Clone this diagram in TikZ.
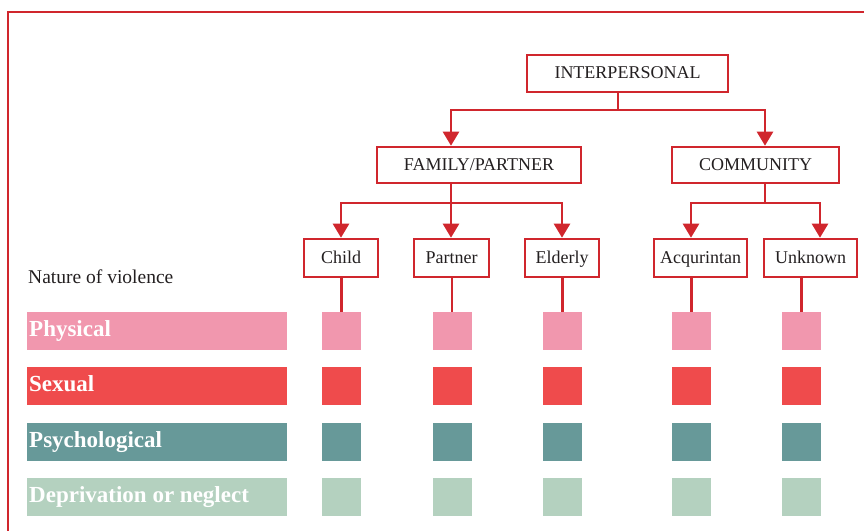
\documentclass[tikz,border=0pt]{standalone}
\usepackage{fontspec}
\setmainfont{Liberation Serif}
\usetikzlibrary{arrows.meta}
\definecolor{redline}{HTML}{D0262D}
\definecolor{txt}{HTML}{231F20}
\definecolor{cphys}{HTML}{F197AE}
\definecolor{csex}{HTML}{EF4B4C}
\definecolor{cpsy}{HTML}{679999}
\definecolor{cdep}{HTML}{B4D1BF}
\tikzset{
  box/.style={draw=redline, line width=2.6pt, fill=white, inner sep=0pt, text height=12pt, text depth=2pt, minimum height=37pt, text=txt, font=\fontsize{18}{20}\selectfont},
  conn/.style={draw=redline, line width=2.6pt},
  arr/.style={conn, -{Triangle[length=14pt,width=16pt]}},
  bar/.style={inner sep=0pt, minimum width=260pt, minimum height=38pt, anchor=west},
  bartext/.style={inner sep=0pt, anchor=base west, text=white, font=\fontsize{23}{25}\selectfont\bfseries},
  sq/.style={inner sep=0pt, minimum width=39pt, minimum height=38pt},
}
\begin{document}
\begin{tikzpicture}[x=1pt,y=-1pt]
\useasboundingbox (0,0) rectangle (864,530);
\clip (0,0) rectangle (864,530);
% frame
\draw[redline, line width=2pt] (8,540) -- (8,12) -- (875,12);
% top nodes
\node[box, minimum width=201pt] (inter) at (627.5,73.5) {INTERPERSONAL};
\node[box, minimum width=204pt, minimum height=36pt] (fam) at (479,165) {FAMILY/PARTNER};
\node[box, minimum width=167pt, minimum height=36pt] (com) at (755.5,165) {COMMUNITY};
\node[box, minimum width=74pt, minimum height=38pt] (child) at (341,258) {Child};
\node[box, minimum width=75pt, minimum height=38pt] (partner) at (451.5,258) {Partner};
\node[box, minimum width=74pt, minimum height=38pt] (elderly) at (562,258) {Elderly};
\node[box, minimum width=93pt, minimum height=38pt] (acq) at (700.5,258) {Acqurintan};
\node[box, minimum width=93pt, minimum height=38pt] (unk) at (810.5,258) {Unknown};
% label
\node[anchor=base west, inner sep=0pt, text=txt, font=\fontsize{19.5}{22}\selectfont] (nat) at (28,283) {Nature of violence};
% bars
\node[bar, fill=cphys] (bphys) at (27,331) {};
\node[bar, fill=csex] (bsex) at (27,386) {};
\node[bar, fill=cpsy] (bpsy) at (27,441.5) {};
\node[bar, fill=cdep] (bdep) at (27,497) {};
\node[bartext] (tphys) at (29,336.5) {Physical};
\node[bartext] (tsex) at (29,391.5) {Sexual};
\node[bartext] (tpsy) at (29,447) {Psychological};
\node[bartext] (tdep) at (29,502) {Deprivation or neglect};
% squares
\foreach \n/\x in {c/341.5,p/452,e/562.5,a/691.5,u/801.5}{
  \node[sq, fill=cphys] (s\n1) at (\x,331) {};
  \node[sq, fill=csex] (s\n2) at (\x,386) {};
  \node[sq, fill=cpsy] (s\n3) at (\x,441.5) {};
  \node[sq, fill=cdep] (s\n4) at (\x,497) {};
}
% connectors
\coordinate (j1) at (618,110);
\coordinate (fa) at (451,0);
\coordinate (ca) at (765,0);
\draw[conn] (inter.south -| j1) -- (j1);
\draw[arr] (j1) -| (fam.north -| fa);
\draw[arr] (j1) -| (com.north -| ca);
\coordinate (j2) at (451,203);
\draw[conn] (fam.south -| j2) -- (j2);
\draw[arr] (j2) -| (child.north);
\draw[arr] (j2) -- (partner.north -| j2);
\draw[arr] (j2) -| (elderly.north);
\coordinate (j3) at (765,203);
\coordinate (aa) at (691,0);
\coordinate (ua) at (820,0);
\draw[conn] (com.south -| j3) -- (j3);
\draw[arr] (j3) -| (acq.north -| aa);
\draw[arr] (j3) -| (unk.north -| ua);
% stems to squares
\draw[conn] (child.south -| sc1.north) -- (sc1.north);
\draw[conn] (partner.south -| sp1.north) -- (sp1.north);
\draw[conn] (elderly.south -| se1.north) -- (se1.north);
\draw[conn] (acq.south -| sa1.north) -- (sa1.north);
\draw[conn] (unk.south -| su1.north) -- (su1.north);
\end{tikzpicture}
\end{document}
